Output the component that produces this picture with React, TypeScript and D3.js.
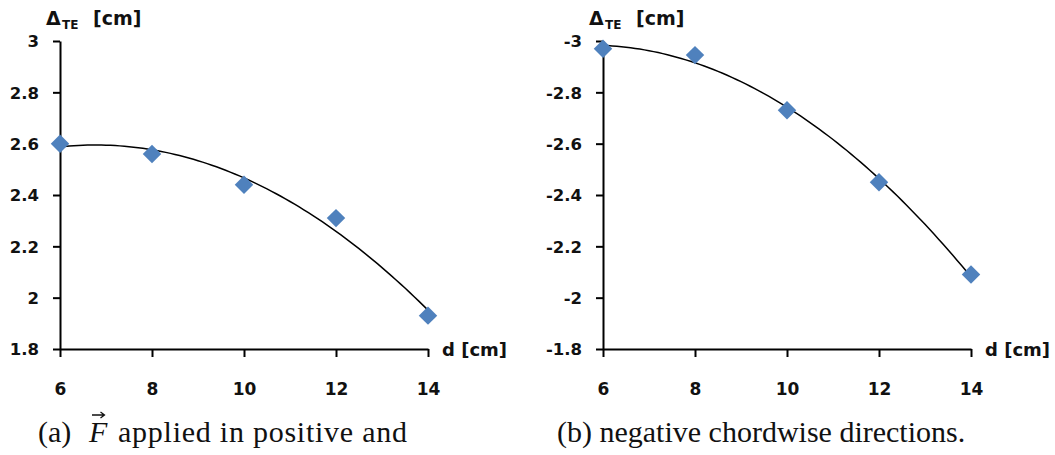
import React from "react";
import * as d3 from "d3";

const dValues = [6, 8, 10, 12, 14];
const deltaPositive = [2.6, 2.56, 2.44, 2.31, 1.93];
const deltaNegative = [-2.97, -2.945, -2.73, -2.45, -2.09];
const yTicksPositive = [1.8, 2, 2.2, 2.4, 2.6, 2.8, 3];
const yTicksNegative = [-1.8, -2, -2.2, -2.4, -2.6, -2.8, -3];

// least squares quadratic (Excel "polynomial, order 2" trendline)
function quadFit(xs, ys) {
    let s = [0, 0, 0, 0, 0];
    let t = [0, 0, 0];
    xs.forEach((x, i) => {
        for (let k = 0; k < 5; k++) s[k] += Math.pow(x, k);
        for (let k = 0; k < 3; k++) t[k] += Math.pow(x, k) * ys[i];
    });
    const m = [
        [s[0], s[1], s[2], t[0]],
        [s[1], s[2], s[3], t[1]],
        [s[2], s[3], s[4], t[2]],
    ];
    for (let i = 0; i < 3; i++) {
        for (let j = i + 1; j < 3; j++) {
            const f = m[j][i] / m[i][i];
            for (let k = i; k < 4; k++) m[j][k] -= f * m[i][k];
        }
    }
    const c = [0, 0, 0];
    for (let i = 2; i >= 0; i--) {
        let v = m[i][3];
        for (let k = i + 1; k < 3; k++) v -= m[i][k] * c[k];
        c[i] = v / m[i][i];
    }
    return (x) => c[0] + c[1] * x + c[2] * x * x;
}

function Panel({ left, yDomain, yTicks, values }) {
    const ref = React.useRef();
    React.useEffect(() => {
        const x0 = left;
        const x1 = left + 368;
        const top = 41;
        const bottom = 349;
        const g = d3.select(ref.current);
        g.selectAll("*").remove();

        const x = d3.scaleLinear().domain([6, 14]).range([x0, x1]);
        const y = d3.scaleLinear().domain(yDomain).range([bottom, top]);

        const font = "'DejaVu Sans', sans-serif";
        const ink = "#111";
        const fmt = (d) => String(d); // plain hyphen minus like Excel

        // y axis
        const yAxis = g.append("g").attr("transform", `translate(${x0},0)`)
            .call(d3.axisLeft(y).tickValues(yTicks).tickSize(7).tickSizeOuter(0)
                .tickFormat(fmt));
        yAxis.select(".domain").attr("stroke", "#000").attr("stroke-width", 2);
        yAxis.selectAll(".tick line").attr("stroke", "#000").attr("stroke-width", 2);
        yAxis.selectAll(".tick text")
            .attr("x", -21)
            .attr("dy", "0.36em")
            .attr("font-family", font).attr("font-weight", "bold")
            .attr("font-size", 16.5).attr("fill", ink);

        // x axis
        const xAxis = g.append("g").attr("transform", `translate(0,${bottom})`)
            .call(d3.axisBottom(x).tickValues(dValues).tickSize(8).tickSizeOuter(0)
                .tickFormat(fmt));
        xAxis.select(".domain").attr("stroke", "#000").attr("stroke-width", 2);
        xAxis.selectAll(".tick line").attr("stroke", "#000").attr("stroke-width", 2);
        xAxis.selectAll(".tick text")
            .attr("y", 46)
            .attr("dy", 0)
            .attr("font-family", font).attr("font-weight", "bold")
            .attr("font-size", 17).attr("fill", ink);

        // trend line
        const f = quadFit(dValues, values);
        const xs = d3.range(6, 14.001, 0.1);
        g.append("path")
            .attr("d", d3.line().x((d) => x(d)).y((d) => y(f(d)))(xs))
            .attr("fill", "none")
            .attr("stroke", "#000")
            .attr("stroke-width", 1.5);

        // markers
        g.append("g").selectAll("path")
            .data(dValues)
            .join("path")
            .attr("transform", (d, i) => `translate(${x(d)},${y(values[i])}) rotate(45)`)
            .attr("d", d3.symbol(d3.symbolSquare, 170)())
            .attr("fill", "#4F81BD");

        // axis titles
        const yt = g.append("text")
            .attr("y", 25)
            .attr("font-family", font).attr("font-weight", "bold")
            .attr("fill", ink);
        yt.append("tspan").attr("x", x0 - 14).attr("font-size", 19).text("Δ");
        yt.append("tspan").attr("x", x0 + 2).attr("font-size", 12).attr("dy", 4).text("TE");
        yt.append("tspan").attr("x", x0 + 33).attr("font-size", 19).attr("dy", -4).text("[cm]");

        g.append("text")
            .attr("x", x1 + 14).attr("y", 356)
            .attr("font-family", font).attr("font-weight", "bold")
            .attr("font-size", 18).attr("fill", ink)
            .text("d [cm]");
    }, [left, yDomain, yTicks, values]);
    return <g ref={ref}></g>;
}

export default function App() {
    const serif = "'Liberation Serif', 'Times New Roman', serif";
    return (
        <svg width={1055} height={455}
            style={{ position: "absolute", left: 0, top: 0, background: "#fff" }}>
            <Panel left={60} yDomain={[1.8, 3]} yTicks={yTicksPositive} values={deltaPositive} />
            <Panel left={603} yDomain={[-1.8, -3]} yTicks={yTicksNegative} values={deltaNegative} />
            <text y={442} fontFamily={serif} fontSize={30} fill="#111">
                <tspan x={38}>(a)</tspan>
                <tspan x={89} fontStyle="italic">F</tspan>
                <tspan x={118} textLength={289} lengthAdjust="spacing">applied in positive and</tspan>
            </text>
            <path d="M92,415 L104,415 M100.5,412 L104.5,415 L100.5,418" fill="none" stroke="#111" strokeWidth={1.3} />
            <text x={557} y={442} fontFamily={serif} fontSize={30} fill="#111">
                (b) negative chordwise directions.
            </text>
        </svg>
    );
}
